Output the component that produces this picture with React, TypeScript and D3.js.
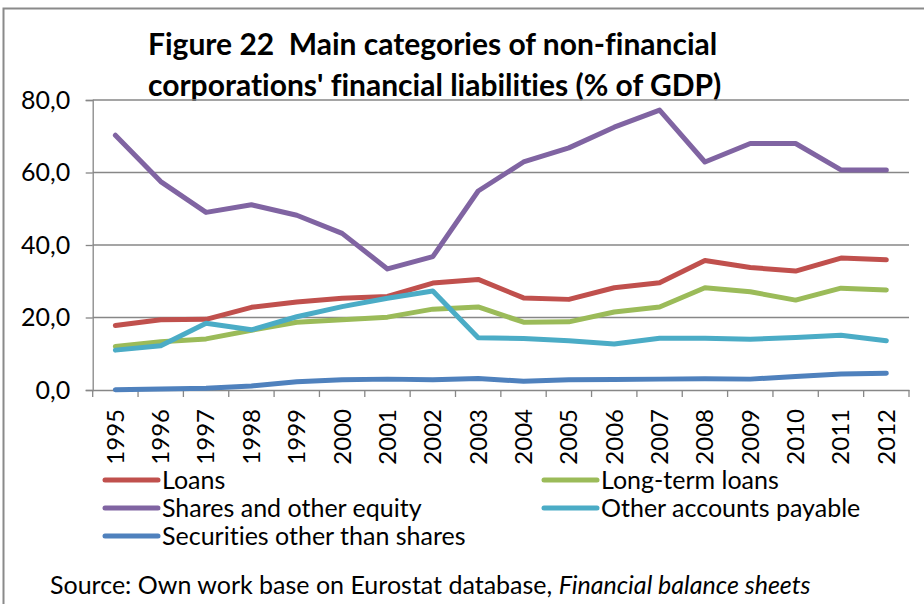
import React, { useRef, useEffect } from 'react';
import * as d3 from 'd3';

const years = ['1995', '1996', '1997', '1998', '1999', '2000', '2001', '2002', '2003', '2004', '2005', '2006', '2007', '2008', '2009', '2010', '2011', '2012'];

const loans = [17.8, 19.4, 19.5, 22.8, 24.3, 25.3, 25.8, 29.5, 30.5, 25.4, 25.0, 28.2, 29.6, 35.7, 33.8, 32.8, 36.4, 35.9];
const longTermLoans = [12.0, 13.3, 14.1, 16.5, 18.7, 19.4, 20.1, 22.3, 22.9, 18.7, 18.8, 21.5, 22.9, 28.2, 27.1, 24.8, 28.1, 27.6];
const shares = [70.3, 57.5, 49.0, 51.1, 48.2, 43.2, 33.4, 36.8, 54.9, 62.9, 66.8, 72.5, 77.2, 62.9, 68.0, 68.0, 60.7, 60.7];
const otherAccounts = [11.0, 12.2, 18.4, 16.6, 20.2, 23.0, 25.3, 27.3, 14.4, 14.2, 13.6, 12.7, 14.3, 14.3, 14.0, 14.5, 15.1, 13.6];
const securities = [0.1, 0.3, 0.5, 1.1, 2.3, 2.8, 3.0, 2.8, 3.2, 2.4, 2.8, 2.9, 3.0, 3.1, 3.0, 3.7, 4.4, 4.6];

const yTicks = [0, 20, 40, 60, 80];

const seriesNames = ['Loans', 'Long-term loans', 'Shares and other equity', 'Other accounts payable', 'Securities other than shares'];

const FONT = 'Lato, "Open Sans", sans-serif';

function App() {
    const chartRef = useRef<HTMLDivElement>(null);

    useEffect(() => {
        document.body.style.margin = '0';

        const series = [
            { name: seriesNames[0], values: loans, color: '#C0504D' },
            { name: seriesNames[1], values: longTermLoans, color: '#9BBB59' },
            { name: seriesNames[2], values: shares, color: '#8064A2' },
            { name: seriesNames[3], values: otherAccounts, color: '#4BACC6' },
            { name: seriesNames[4], values: securities, color: '#4F81BD' },
        ];

        const width = 924;
        const height = 604;

        const x = d3.scaleBand<string>().domain(years).range([92.7, 909]);
        const y = d3.scaleLinear().domain([0, 80]).range([390, 100]);

        const svg = d3
            .select(chartRef.current)
            .append('svg')
            .attr('width', width)
            .attr('height', height)
            .style('display', 'block')
            .style('font-family', FONT)
            .style('font-variant-ligatures', 'none');

        svg.append('rect').attr('width', width).attr('height', height).attr('fill', '#fff');

        // outer chart border (only top and left visible)
        svg.append('path')
            .attr('d', `M3.5,${height + 5} V8.5 H${width + 5}`)
            .attr('fill', 'none')
            .attr('stroke', '#8a8a8a')
            .attr('stroke-width', 2);

        // title
        const title = svg.append('text')
            .attr('font-weight', 'bold')
            .attr('font-size', 30)
            .attr('fill', '#000')
            .style('white-space', 'pre');
        title.append('tspan').attr('x', 148).attr('y', 55).text('Figure 22  Main categories of non-financial');
        title.append('tspan').attr('x', 148).attr('y', 96).text("corporations' financial liabilities (% of GDP)");

        // gridlines
        svg.selectAll('.grid')
            .data(yTicks.filter(d => d > 0))
            .enter()
            .append('line')
            .attr('x1', 92.7)
            .attr('x2', 909)
            .attr('y1', d => y(d))
            .attr('y2', d => y(d))
            .attr('stroke', '#878787')
            .attr('stroke-width', 1.3);

        // y axis
        const yAxis = svg.append('g').attr('transform', 'translate(92.7,0)')
            .call(d3.axisLeft(y).tickValues(yTicks).tickSize(7).tickPadding(15.5)
                .tickFormat(d => (d as number).toFixed(1).replace('.', ',')));
        yAxis.select('.domain').attr('stroke', '#878787').attr('stroke-width', 1.3);
        yAxis.selectAll('.tick line').attr('stroke', '#878787').attr('stroke-width', 1.3);
        yAxis.selectAll('.tick text')
            .attr('font-family', FONT)
            .attr('font-size', 25)
            .attr('fill', '#000');

        // x axis
        const xAxis = svg.append('g').attr('transform', 'translate(0,390)')
            .call(d3.axisBottom(x).tickSize(0).tickPadding(0));
        xAxis.select('.domain').attr('stroke', '#878787').attr('stroke-width', 1.3);
        xAxis.selectAll('.tick text')
            .attr('font-family', FONT)
            .attr('font-size', 24)
            .attr('fill', '#000')
            .attr('transform', 'rotate(-90)')
            .attr('text-anchor', 'end')
            .attr('x', -19)
            .attr('y', 0)
            .attr('dy', '0.35em');

        // category boundary ticks
        svg.selectAll('.xtick')
            .data(years.concat(['end']))
            .enter()
            .append('line')
            .attr('x1', (d, i) => 92.7 + i * x.step())
            .attr('x2', (d, i) => 92.7 + i * x.step())
            .attr('y1', 390)
            .attr('y2', 397)
            .attr('stroke', '#878787')
            .attr('stroke-width', 1.3);

        const line = d3.line<number>()
            .x((d, i) => (x(years[i]) as number) + x.bandwidth() / 2)
            .y(d => y(d));

        svg.selectAll('.series')
            .data(series)
            .enter()
            .append('path')
            .attr('d', d => line(d.values))
            .attr('fill', 'none')
            .attr('stroke', d => d.color)
            .attr('stroke-width', 5)
            .attr('stroke-linecap', 'round')
            .attr('stroke-linejoin', 'round');

        // legend
        const legendPos = [
            { lx: 103, ly: 480 },
            { lx: 542, ly: 480 },
            { lx: 103, ly: 508 },
            { lx: 542, ly: 508 },
            { lx: 103, ly: 536 },
        ];
        const legend = svg.selectAll('.legend')
            .data(series)
            .enter()
            .append('g')
            .attr('transform', (d, i) => `translate(${legendPos[i].lx},${legendPos[i].ly})`);
        legend.append('line')
            .attr('x1', 2)
            .attr('x2', 55)
            .attr('stroke', d => d.color)
            .attr('stroke-width', 5)
            .attr('stroke-linecap', 'round');
        legend.append('text')
            .attr('x', 59)
            .attr('dy', '0.35em')
            .attr('font-size', 25)
            .attr('fill', '#000')
            .text(d => d.name);

        // source
        const source = svg.append('text')
            .attr('x', 50)
            .attr('y', 594)
            .attr('font-size', 25)
            .attr('fill', '#000');
        source.append('tspan').text('Source: Own work base on Eurostat database, ');
        source.append('tspan').attr('font-style', 'italic').text('Financial balance sheets');

        return () => {
            svg.remove();
        };
    }, []);

    return <div ref={chartRef}></div>;
}

export default App;
